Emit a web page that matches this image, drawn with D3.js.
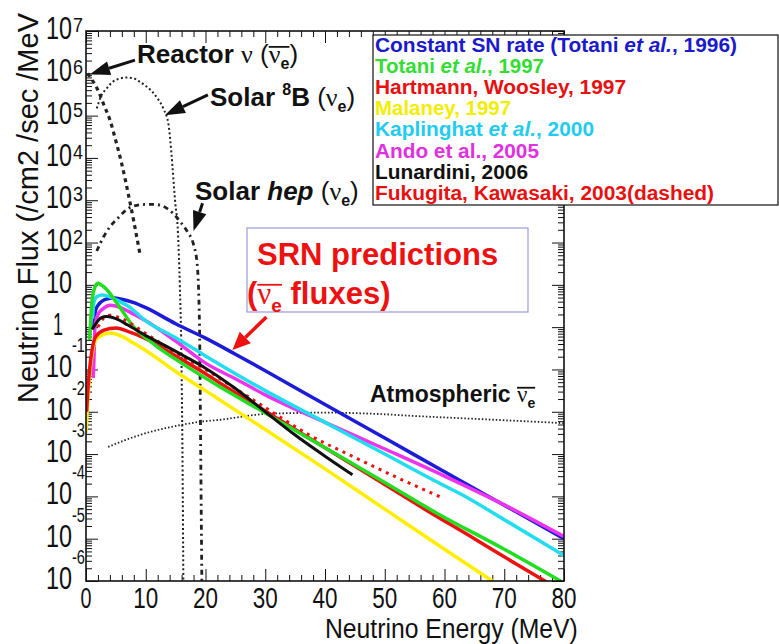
<!DOCTYPE html>
<html>
<head>
<meta charset="utf-8">
<script src="https://cdn.jsdelivr.net/npm/d3@7"></script>
<style>
  body { margin: 0; background: #fff; }
  svg { display: block; }
  text { white-space: pre; }
</style>
</head>
<body>
<svg id="chart" width="779" height="644"></svg>
<script>
// energies in MeV, fluxes given as log10(flux /cm2/sec/MeV)
const reactorE = [0.3, 1, 2, 3, 4, 5, 6, 7, 8, 9];
const reactorLogF = [6.0, 5.85, 5.6, 5.25, 4.9, 4.4, 3.85, 3.2, 2.5, 1.75];

const boronE = [1.8, 2.5, 3.5, 4.5, 5.5, 6.8, 8, 9, 10, 11, 12, 13, 13.8, 14.3, 14.9, 15.4, 15.7, 16.0, 16.2, 16.3];
const boronLogF = [5.17, 5.45, 5.65, 5.8, 5.87, 5.9, 5.88, 5.8, 5.7, 5.58, 5.4, 5.15, 4.8, 4.1, 3.0, 2.2, 1.0, -1, -4, -6.2];

const hepE = [1.8, 3, 4, 5.5, 7, 8.5, 10, 11.5, 13, 14.5, 16, 17, 18, 18.6, 19, 19.2, 19.4];
const hepLogF = [1.8, 2.15, 2.37, 2.6, 2.8, 2.88, 2.9, 2.9, 2.85, 2.7, 2.45, 2.25, 1.95, 1.5, 0, -3, -6.2];

const atmoE = [3.7, 6, 9, 12, 16, 20, 22.4, 27.9, 30, 35, 40, 44.6, 50, 55, 62.4, 70, 80];
const atmoLogF = [-2.83, -2.7, -2.55, -2.43, -2.31, -2.22, -2.19, -2.08, -2.05, -2.03, -2.02, -2.03, -2.06, -2.1, -2.15, -2.2, -2.27];

// SRN predictions
const blueE = [1.3, 1.6, 2.2, 3, 4, 4.7, 6, 8, 10, 15, 20, 25, 30, 40, 50, 60, 70, 80];
const blueLogF = [0.0, 0.4, 0.55, 0.64, 0.68, 0.69, 0.66, 0.58, 0.46, 0.08, -0.26, -0.64, -1.03, -1.83, -2.62, -3.42, -4.21, -5.0];

const greenE = [0.6, 0.8, 1.0, 1.5, 2, 2.5, 3, 4, 5, 6, 8, 10, 12, 16, 22.4, 30, 40, 50, 58.5, 70, 80];
const greenLogF = [-0.3, 0.2, 0.6, 0.95, 1.04, 1.0, 0.95, 0.8, 0.6, 0.4, 0.0, -0.25, -0.47, -0.85, -1.41, -2.03, -2.85, -3.67, -4.38, -5.25, -6.05];

const redE = [0.1, 0.3, 0.6, 1, 1.6, 3, 5, 7, 10, 15, 20, 22.4, 30, 40, 50, 56.9, 65, 72, 78];
const redLogF = [-2.0, -1.5, -1.0, -0.55, -0.23, -0.07, -0.02, -0.1, -0.27, -0.68, -1.1, -1.32, -1.98, -2.85, -3.72, -4.32, -5.0, -5.6, -6.1];

const yellowE = [0, 0.3, 0.7, 1.2, 1.6, 2.5, 4.1, 6, 8, 10, 15, 20, 22.4, 30, 40, 50.2, 60, 68];
const yellowLogF = [-2.5, -1.7, -1.0, -0.5, -0.3, -0.2, -0.14, -0.22, -0.38, -0.55, -1.05, -1.5, -1.72, -2.42, -3.35, -4.32, -5.25, -6.0];

const cyanE = [1.1, 1.3, 1.8, 2.7, 3.5, 5, 7, 10, 15, 20, 25, 30, 40, 50, 60, 62.4, 70, 80];
const cyanLogF = [0.2, 0.57, 0.72, 0.76, 0.74, 0.65, 0.5, 0.15, -0.25, -0.68, -1.1, -1.5, -2.25, -3.0, -3.75, -3.92, -4.55, -5.4];

const magentaE = [1.2, 1.3, 1.5, 2, 3, 4, 5, 7, 10, 15, 20, 25, 30, 40, 50, 60, 70, 80];
const magentaLogF = [-1.2, -0.9, 0.0, 0.3, 0.45, 0.52, 0.5, 0.38, 0.15, -0.33, -0.85, -1.22, -1.6, -2.25, -2.88, -3.52, -4.2, -4.95];

const blackE = [1, 1.5, 2, 2.5, 3.5, 5, 7, 10, 13, 16, 20, 25, 30, 35, 40, 44.6];
const blackLogF = [-0.05, 0.05, 0.15, 0.22, 0.25, 0.2, 0.05, -0.2, -0.42, -0.65, -0.97, -1.45, -2.0, -2.55, -3.05, -3.49];

const dashedE = [2, 3, 4, 6, 10, 15, 20, 25, 30, 37.4, 45, 52, 59.7];
const dashedLogF = [0.0, 0.22, 0.28, 0.2, -0.15, -0.6, -1.0, -1.45, -1.9, -2.55, -3.08, -3.55, -4.04];

const legendLabels = [
    'Constant SN rate (Totani *et al.*, 1996)',
    'Totani *et al.*, 1997',
    'Hartmann, Woosley, 1997',
    'Malaney, 1997',
    'Kaplinghat *et al.*, 2000',
    'Ando et al., 2005',
    'Lunardini, 2006',
    'Fukugita, Kawasaki, 2003(dashed)'
];

const xTicks = [0, 10, 20, 30, 40, 50, 60, 70, 80];
const yExps = [-6, -5, -4, -3, -2, -1, 0, 1, 2, 3, 4, 5, 6, 7];

// arrows as [E, log10 F] pairs: tail then tip
const arrowReactor = [[8.2, 6.31], [0.67, 5.98]];
const arrowBoron = [[20.4, 5.49], [13.2, 5.01]];
const arrowHep = [[19.5, 2.93], [18.0, 2.27]];
const arrowSRN = [[30.2, 0.24], [24.5, -0.54]];

const legendColors = ['#1a1acc', '#33dd33', '#e81010', '#f2ee00', '#22ccee', '#e030e0', '#111', '#e81010'];
const legendWidths = [362, 169, 251, 136, 219, 164, 153, 339];
const sans = '"Liberation Sans", Arial, sans-serif';
const serif = '"Liberation Serif", "DejaVu Serif", serif';

const svg = d3.select('#chart');
const m = { left: 86, top: 31, right: 564, bottom: 581 };
const x = d3.scaleLinear().domain([0, 80]).range([m.left, m.right]);
const y = d3.scaleLog().domain([1e-6, 1e7]).range([m.bottom, m.top]);

const zip = (es, ls) => es.map((e, i) => [e, ls[i]]);
const line = d3.line()
    .x(d => x(d[0]))
    .y(d => y(Math.pow(10, d[1])))
    .curve(d3.curveMonotoneX);

svg.append('defs').append('clipPath').attr('id', 'plot-clip')
    .append('rect')
    .attr('x', m.left).attr('y', m.top)
    .attr('width', m.right - m.left).attr('height', m.bottom - m.top);

// axes ticks (all inward)
const minorX = d3.range(0, 81, 2).filter(v => v % 10 !== 0);
const minorY = [];
for (let e = -6; e < 7; e++) {
    for (let k = 2; k <= 9; k++) minorY.push(k * Math.pow(10, e));
}
const majorY = yExps.map(e => Math.pow(10, e));

const axes = svg.append('g').attr('class', 'axes');
function tickAxis(axisFn, scale, values, size, tr) {
    const g = axes.append('g').attr('transform', tr)
        .call(axisFn(scale).tickValues(values).tickSize(size).tickFormat(''));
    g.select('.domain').remove();
    g.selectAll('line').attr('stroke', '#111').attr('stroke-width', 1);
    return g;
}
tickAxis(d3.axisBottom, x, xTicks, -12, `translate(0,${m.bottom})`);
tickAxis(d3.axisBottom, x, minorX, -6, `translate(0,${m.bottom})`);
tickAxis(d3.axisTop, x, xTicks, -12, `translate(0,${m.top})`);
tickAxis(d3.axisTop, x, minorX, -6, `translate(0,${m.top})`);
tickAxis(d3.axisLeft, y, majorY, -12, `translate(${m.left},0)`);
tickAxis(d3.axisLeft, y, minorY, -6, `translate(${m.left},0)`);
tickAxis(d3.axisRight, y, majorY, -12, `translate(${m.right},0)`);
tickAxis(d3.axisRight, y, minorY, -6, `translate(${m.right},0)`);

// condensed text: start-anchored, squeezed horizontally to a given width
function squeezed(sel, tx, ty, str, size, width, rot) {
    const t = sel.append('text')
        .attr('font-family', sans).attr('font-size', size)
        .attr('fill', '#111')
        .text(str);
    const sx = width / t.node().getComputedTextLength();
    t.attr('transform', `translate(${tx},${ty})${rot ? ' rotate(' + rot + ')' : ''} scale(${sx},1)`);
    return t;
}

// x labels
xTicks.forEach(v => {
    const w = v === 0 ? 11 : 25;
    squeezed(axes, x(v) - w / 2, 608, String(v), 30, w);
});

// y labels: 10 with raised exponent
yExps.forEach(e => {
    const yy = y(Math.pow(10, e));
    if (e === 0) {
        squeezed(axes, 53, yy + 8, '1', 31, 10);
        return;
    }
    squeezed(axes, 46, yy + 8, '10', 31, 26);
    if (e > 1) squeezed(axes, 73, yy + 1, String(e), 21, 10);
    if (e < 0) squeezed(axes, 72, yy - 17, '-' + (-e), 21, 13);
});

// axis titles
squeezed(svg, 325, 638, 'Neutrino Energy (MeV)', 27, 253);
squeezed(svg, 38, 403, 'Neutrino Flux (/cm2 /sec /MeV', 29, 390, -90);

// curves
const plot = svg.append('g').attr('clip-path', 'url(#plot-clip)');
const curves = [
    { d: zip(atmoE, atmoLogF), c: '#222', w: 1.8, dash: '1.5,2' },
    { d: zip(boronE, boronLogF), c: '#222', w: 2, dash: '2,2.5' },
    { d: zip(hepE, hepLogF), c: '#222', w: 2.8, dash: '5,4,2,4' },
    { d: zip(reactorE, reactorLogF), c: '#222', w: 3.2, dash: '4,4' },
    { d: zip(blueE, blueLogF), c: '#1c1cd8', w: 3.5 },
    { d: zip(magentaE, magentaLogF), c: '#ee33ee', w: 3.5 },
    { d: zip(cyanE, cyanLogF), c: '#22ddee', w: 3.5 },
    { d: zip(yellowE, yellowLogF), c: '#ffee00', w: 3.5 },
    { d: zip(redE, redLogF), c: '#ee1111', w: 3.5 },
    { d: zip(greenE, greenLogF), c: '#22dd22', w: 3.5 },
    { d: zip(dashedE, dashedLogF), c: '#ee1111', w: 3, dash: '3,5' },
    { d: zip(blackE, blackLogF), c: '#111', w: 3 }
];
plot.selectAll('path.curve').data(curves).join('path')
    .attr('class', 'curve')
    .attr('d', d => line(d.d))
    .attr('fill', 'none')
    .attr('stroke', d => d.c)
    .attr('stroke-width', d => d.w)
    .attr('stroke-dasharray', d => d.dash || null);

// frame
svg.append('rect')
    .attr('x', m.left).attr('y', m.top)
    .attr('width', m.right - m.left).attr('height', m.bottom - m.top)
    .attr('fill', 'none').attr('stroke', '#111').attr('stroke-width', 1.6);

// arrows
function arrow(pts, color, width, headLen, headW) {
    const [x1, y1] = [x(pts[0][0]), y(Math.pow(10, pts[0][1]))];
    const [x2, y2] = [x(pts[1][0]), y(Math.pow(10, pts[1][1]))];
    const ang = Math.atan2(y2 - y1, x2 - x1);
    const bx = x2 - headLen * Math.cos(ang), by = y2 - headLen * Math.sin(ang);
    svg.append('line').attr('x1', x1).attr('y1', y1).attr('x2', bx).attr('y2', by)
        .attr('stroke', color).attr('stroke-width', width);
    const px = Math.sin(ang) * headW / 2, py = -Math.cos(ang) * headW / 2;
    svg.append('path')
        .attr('d', `M${x2},${y2}L${bx + px},${by + py}L${bx - px},${by - py}Z`)
        .attr('fill', color);
}
arrow(arrowReactor, '#111', 3, 20, 14);
arrow(arrowBoron, '#111', 3, 20, 14);
arrow(arrowHep, '#111', 3, 20, 14);
arrow(arrowSRN, '#ee1111', 3.5, 18, 16);

// rich text helper: segments laid side by side, optional overbar
function rich(x0, yb, segs, fill, size) {
    let cx = x0, barStart = null;
    segs.forEach(s => {
        const fs = s.size || size;
        const t = svg.append('text')
            .attr('x', cx).attr('y', yb + (s.dy || 0))
            .attr('font-family', s.serif ? serif : sans)
            .attr('font-size', fs)
            .attr('font-weight', s.normal ? 'normal' : 'bold')
            .attr('font-style', s.italic ? 'italic' : 'normal')
            .attr('fill', fill)
            .text(s.t);
        if (s.barStart) barStart = cx;
        cx += t.node().getComputedTextLength();
        if (s.barEnd) {
            svg.append('line')
                .attr('x1', barStart).attr('x2', cx)
                .attr('y1', yb - size * 0.62).attr('y2', yb - size * 0.62)
                .attr('stroke', fill).attr('stroke-width', 1.8);
        }
    });
}
const nu = { t: 'ν', serif: true, normal: true };
rich(137, 63, [
    { t: 'Reactor ' }, nu, { t: ' (', normal: true },
    Object.assign({ barStart: true }, nu),
    { t: 'e', size: 16, dy: 6, barEnd: true }, { t: ')', normal: true }
], '#111', 26);
rich(210, 106, [
    { t: 'Solar ' }, { t: '8', size: 16, dy: -11 }, { t: 'B ' },
    { t: '(', normal: true }, nu, { t: 'e', size: 16, dy: 6 }, { t: ')', normal: true }
], '#111', 26);
rich(195, 200, [
    { t: 'Solar ' }, { t: 'hep', italic: true }, { t: ' (', normal: true },
    nu, { t: 'e', size: 16, dy: 6 }, { t: ')', normal: true }
], '#111', 26);
rich(370, 402, [
    { t: 'Atmospheric ' }, Object.assign({ barStart: true }, nu),
    { t: 'e', size: 14, dy: 6, barEnd: true }
], '#111', 23);

// SRN box
svg.append('rect')
    .attr('x', 247).attr('y', 228).attr('width', 281).attr('height', 84)
    .attr('fill', 'none').attr('stroke', '#9a9ae0').attr('stroke-width', 1.2);
rich(257, 265, [{ t: 'SRN predictions' }], '#ee1111', 31);
rich(247, 304, [
    { t: '(' }, Object.assign({ barStart: true }, nu),
    { t: 'e', size: 19, dy: 8, barEnd: true }, { t: ' fluxes)' }
], '#ee1111', 31);

// legend
const legend = svg.append('g');
legend.append('rect')
    .attr('x', 373).attr('y', 35).attr('width', 405).attr('height', 170)
    .attr('fill', '#fff').attr('stroke', '#111').attr('stroke-width', 1.2);
legendLabels.forEach((lab, i) => {
    const t = legend.append('text')
        .attr('x', 375).attr('y', 51.5 + i * 21.2)
        .attr('font-family', sans).attr('font-size', 20)
        .attr('font-weight', 'bold').attr('fill', legendColors[i])
        .attr('textLength', legendWidths[i])
        .attr('lengthAdjust', 'spacingAndGlyphs');
    lab.split('*').forEach((part, j) => {
        t.append('tspan').attr('font-style', j % 2 ? 'italic' : 'normal').text(part);
    });
});
</script>
</body>
</html>
